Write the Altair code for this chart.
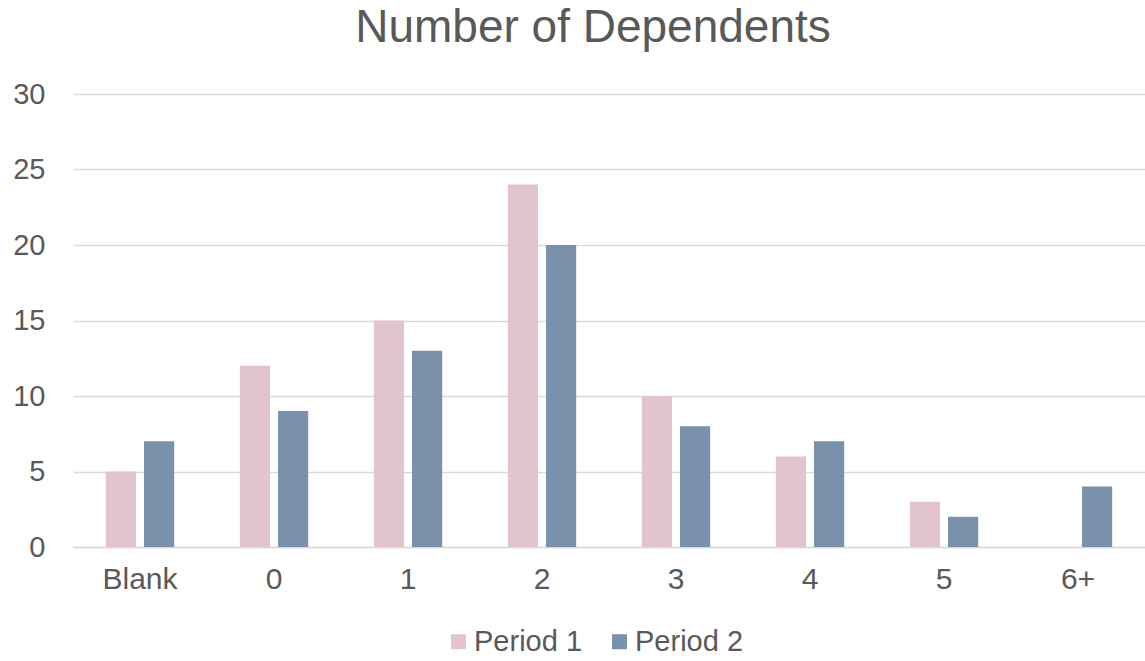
import altair as alt
import pandas as pd

categories = ["Blank", "0", "1", "2", "3", "4", "5", "6+"]
period1 = [5, 12, 15, 24, 10, 6, 3, 0]
period2 = [7, 9, 13, 20, 8, 7, 2, 4]
series = ["Period 1", "Period 2"]
colors = ["#E2C4CC", "#7A91AB"]

rows = []
for c, a, b in zip(categories, period1, period2):
    rows.append({"cat": c, "series": series[0], "value": a})
    rows.append({"cat": c, "series": series[1], "value": b})
df = pd.DataFrame(rows)

FONT = "Liberation Sans"
GREY = "#595959"

chart = alt.Chart(df).mark_bar().encode(
    x=alt.X("cat:N", sort=categories,
            scale=alt.Scale(paddingInner=0.49, paddingOuter=0.245),
            axis=alt.Axis(title=None, labelAngle=0, labelFontSize=30, labelColor=GREY,
                          labelFont=FONT, ticks=False, domain=True, domainColor="#D9D9D9",
                          domainWidth=1.5, labelPadding=17)),
    xOffset=alt.XOffset("series:N", scale=alt.Scale(paddingInner=0.21, paddingOuter=0)),
    y=alt.Y("value:Q", scale=alt.Scale(domain=[0, 30]),
            axis=alt.Axis(title=None, values=[0, 5, 10, 15, 20, 25, 30], labelFontSize=29,
                          labelColor=GREY, labelFont=FONT, ticks=False, domain=False,
                          gridColor="#D9D9D9", gridWidth=1.5, labelPadding=28)),
    color=alt.Color("series:N", scale=alt.Scale(domain=series, range=colors),
                    legend=alt.Legend(title=None, orient="none", direction="horizontal",
                                      legendX=371, legendY=533,
                                      symbolType="square", symbolSize=225,
                                      symbolStrokeWidth=0,
                                      labelFontSize=29, labelColor=GREY, labelFont=FONT,
                                      labelOffset=1, columnPadding=22, symbolOffset=0)),
).properties(
    width=1072, height=453,
    title=alt.TitleParams("Number of Dependents", fontSize=46, font=FONT, color=GREY,
                          fontWeight="normal", anchor="middle", offset=28, dx=-16),
    padding={"left": 73, "top": 94, "right": 0, "bottom": 114},
    autosize=alt.AutoSizeParams(type="none"),
).configure_view(stroke=None)

chart.save("out.html", embed_options={"renderer": "svg", "actions": False})
